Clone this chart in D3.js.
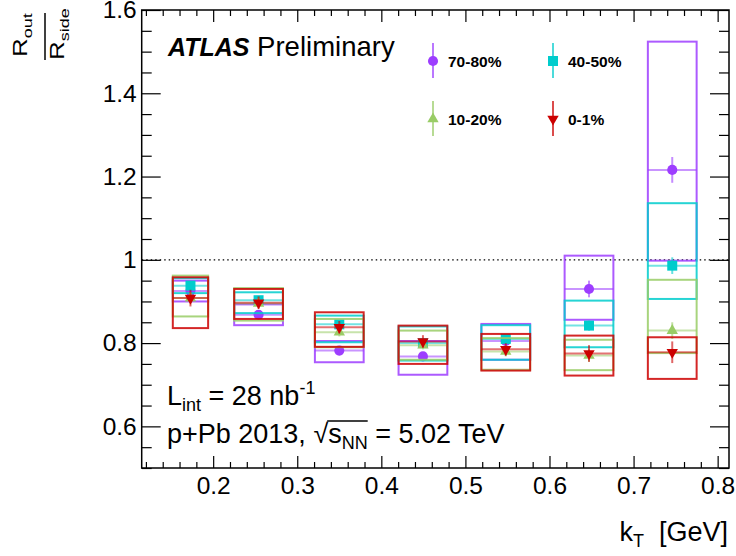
<!DOCTYPE html>
<html><head><meta charset="utf-8">
<script src="https://cdn.jsdelivr.net/npm/d3@7"></script>
<style>
body{margin:0;background:#fff;}
svg{display:block;font-family:"Liberation Sans",Arial,Helvetica,sans-serif;}
</style></head><body>
<svg id="chart" width="736" height="556"></svg>
<script>
// kT bin centres and half widths of the systematic boxes [GeV]
const kT = [0.173, 0.254, 0.350, 0.4495, 0.548, 0.647, 0.746];
const kTHalfWidth = [0.021, 0.029, 0.029, 0.029, 0.029, 0.029, 0.029];

const centralities = ["70-80%", "40-50%", "10-20%", "0-1%"];

// Rout/Rside per centrality class: value, statistical error, systematic band
const ratio70_80   = [0.925, 0.868, 0.782, 0.768, 0.805, 0.930, 1.216];
const stat70_80    = [0.012, 0.010, 0.010, 0.010, 0.012, 0.020, 0.031];
const sysLo70_80   = [0.900, 0.843, 0.754, 0.724, 0.760, 0.856, 0.998];
const sysHi70_80   = [0.950, 0.893, 0.805, 0.805, 0.846, 1.010, 1.524];

const ratio40_50   = [0.938, 0.903, 0.845, 0.800, 0.810, 0.842, 0.986];
const stat40_50    = [0.008, 0.008, 0.008, 0.008, 0.010, 0.012, 0.020];
const sysLo40_50   = [0.920, 0.872, 0.802, 0.758, 0.760, 0.790, 0.906];
const sysHi40_50   = [0.956, 0.922, 0.866, 0.840, 0.843, 0.902, 1.136];

const ratio10_20   = [0.908, 0.895, 0.826, 0.795, 0.780, 0.770, 0.830];
const stat10_20    = [0.012, 0.010, 0.010, 0.010, 0.012, 0.015, 0.020];
const sysLo10_20   = [0.864, 0.854, 0.790, 0.760, 0.736, 0.735, 0.776];
const sysHi10_20   = [0.962, 0.932, 0.858, 0.830, 0.812, 0.808, 0.952];

const ratio0_1     = [0.908, 0.897, 0.838, 0.804, 0.785, 0.775, 0.778];
const stat0_1      = [0.020, 0.015, 0.015, 0.015, 0.015, 0.020, 0.026];
const sysLo0_1     = [0.836, 0.858, 0.791, 0.750, 0.734, 0.722, 0.714];
const sysHi0_1     = [0.958, 0.930, 0.874, 0.842, 0.822, 0.818, 0.814];

// axis ticks
const xMajorTicks = [0.2, 0.3, 0.4, 0.5, 0.6, 0.7, 0.8];
const xTickLabels = ["0.2", "0.3", "0.4", "0.5", "0.6", "0.7", "0.8"];
const yMajorTicks = [0.6, 0.8, 1.0, 1.2, 1.4, 1.6];
const yTickLabels = ["0.6", "0.8", "1", "1.2", "1.4", "1.6"];

const styles = [
  {color: "#9d3dff", symbol: d3.symbolCircle, size: 80, rot: 0},
  {color: "#00cccc", symbol: d3.symbolSquare, size: 100, rot: 0},
  {color: "#99cc66", symbol: d3.symbolTriangle, size: 56, rot: 0},
  {color: "#cc0000", symbol: d3.symbolTriangle, size: 56, rot: 180}
];
const seriesData = [
  [ratio70_80, stat70_80, sysLo70_80, sysHi70_80],
  [ratio40_50, stat40_50, sysLo40_50, sysHi40_50],
  [ratio10_20, stat10_20, sysLo10_20, sysHi10_20],
  [ratio0_1, stat0_1, sysLo0_1, sysHi0_1]
];
const series = seriesData.map((s, i) => ({
  label: centralities[i], ...styles[i],
  points: kT.map((k, j) => ({k, hw: kTHalfWidth[j], v: s[0][j], e: s[1][j], lo: s[2][j], hi: s[3][j]}))
}));

const L = 141.7, R = 729, T = 10, B = 468;
const x = d3.scaleLinear().domain([0.115, 0.8135]).range([L, R]);
const y = d3.scaleLinear().domain([0.5, 1.6]).range([B, T]);

const svg = d3.select("#chart");

// reference line at unity
svg.append("line")
  .attr("x1", L).attr("x2", R).attr("y1", y(1)).attr("y2", y(1))
  .attr("stroke", "#000").attr("stroke-width", 1.2).attr("stroke-dasharray", "1.5,3");

// data: systematic boxes, error bars, markers
series.forEach(s => {
  const g = svg.append("g");
  g.selectAll("rect").data(s.points).join("rect")
    .attr("x", d => x(d.k - d.hw)).attr("width", d => x(d.k + d.hw) - x(d.k - d.hw))
    .attr("y", d => y(d.hi)).attr("height", d => y(d.lo) - y(d.hi))
    .attr("fill", "none").attr("stroke", s.color).attr("stroke-width", 2).attr("stroke-opacity", 0.85);
  g.selectAll("line.h").data(s.points).join("line").attr("class", "h")
    .attr("x1", d => x(d.k - d.hw)).attr("x2", d => x(d.k + d.hw))
    .attr("y1", d => y(d.v)).attr("y2", d => y(d.v))
    .attr("stroke", s.color).attr("stroke-width", 2).attr("stroke-opacity", 0.55);
  g.selectAll("line.v").data(s.points).join("line").attr("class", "v")
    .attr("x1", d => x(d.k)).attr("x2", d => x(d.k))
    .attr("y1", d => y(d.v + d.e)).attr("y2", d => y(d.v - d.e))
    .attr("stroke", s.color).attr("stroke-width", 2).attr("stroke-opacity", 0.6);
  g.selectAll("path").data(s.points).join("path")
    .attr("d", d3.symbol(s.symbol, s.size))
    .attr("transform", d => `translate(${x(d.k)},${y(d.v)}) rotate(${s.rot})`)
    .attr("fill", s.color);
});

// axes with inward ticks on all four sides
const fontSize = 24.5;
function styleAxis(g) {
  g.select(".domain").remove();
  g.selectAll("line").attr("stroke", "#000").attr("stroke-width", 1.2);
  g.selectAll("text").attr("font-size", fontSize).attr("fill", "#000")
    .attr("font-family", "Liberation Sans, Arial, sans-serif");
}
const xMinor = d3.range(0.12, 0.8135, 0.02).filter(v => !xMajorTicks.some(t => Math.abs(t - v) < 1e-6));
const yMinor = d3.range(0.5, 1.6001, 0.05).filter(v => !yMajorTicks.some(t => Math.abs(t - v) < 1e-6));

svg.append("g").attr("transform", `translate(0,${B})`)
  .call(d3.axisBottom(x).tickValues(xMajorTicks).tickSize(-12).tickPadding(9)
    .tickFormat((d, i) => xTickLabels[i])).call(styleAxis);
svg.append("g").attr("transform", `translate(0,${B})`)
  .call(d3.axisBottom(x).tickValues(xMinor).tickSize(-6).tickFormat("")).call(styleAxis);
svg.append("g").attr("transform", `translate(0,${T})`)
  .call(d3.axisTop(x).tickValues(xMajorTicks).tickSize(-12).tickFormat("")).call(styleAxis);
svg.append("g").attr("transform", `translate(0,${T})`)
  .call(d3.axisTop(x).tickValues(xMinor).tickSize(-6).tickFormat("")).call(styleAxis);

svg.append("g").attr("transform", `translate(${L},0)`)
  .call(d3.axisLeft(y).tickValues(yMajorTicks).tickSize(-19).tickPadding(5)
    .tickFormat((d, i) => yTickLabels[i])).call(styleAxis);
svg.append("g").attr("transform", `translate(${L},0)`)
  .call(d3.axisLeft(y).tickValues(yMinor).tickSize(-10).tickFormat("")).call(styleAxis);
svg.append("g").attr("transform", `translate(${R},0)`)
  .call(d3.axisRight(y).tickValues(yMajorTicks).tickSize(-19).tickFormat("")).call(styleAxis);
svg.append("g").attr("transform", `translate(${R},0)`)
  .call(d3.axisRight(y).tickValues(yMinor).tickSize(-10).tickFormat("")).call(styleAxis);

// frame
svg.append("rect").attr("x", L).attr("y", T).attr("width", R - L).attr("height", B - T)
  .attr("fill", "none").attr("stroke", "#000").attr("stroke-width", 1.5);

// x axis title
const xt = svg.append("text").attr("x", 728).attr("y", 541).attr("text-anchor", "end")
  .attr("font-size", 27).style("white-space", "pre");
xt.append("tspan").text("k");
xt.append("tspan").attr("font-size", 18).attr("dy", 6).text("T");
xt.append("tspan").attr("dy", -6).text("  [GeV]");

// y axis title: Rout / Rside fraction, rotated (slightly condensed across the baseline)
const ys = 0.75;
const yt = svg.append("g").attr("transform", `rotate(-90) scale(1,${ys})`);
const num = yt.append("text").attr("x", -57).attr("y", 27 / ys).attr("font-size", 26);
num.append("tspan").text("R");
num.append("tspan").attr("font-size", 18).attr("dy", 7).text("out");
const den = yt.append("text").attr("x", -60).attr("y", 64 / ys).attr("font-size", 26);
den.append("tspan").text("R");
den.append("tspan").attr("font-size", 18).attr("dy", 7).text("side");
yt.append("line").attr("x1", -60).attr("x2", -13).attr("y1", 45 / ys).attr("y2", 45 / ys)
  .attr("stroke", "#000").attr("stroke-width", 2);

// experiment label
const atlas = svg.append("text").attr("x", 168).attr("y", 56).attr("font-size", 25);
atlas.append("tspan").attr("font-weight", "bold").attr("font-style", "italic").text("ATLAS");
atlas.append("tspan").attr("font-size", 27.5).text(" Preliminary");

// luminosity and system
const lum = svg.append("text").attr("x", 167).attr("y", 405).attr("font-size", 27);
lum.append("tspan").text("L");
lum.append("tspan").attr("font-size", 18).attr("dy", 6).text("int");
lum.append("tspan").attr("dy", -6).text(" = 28 nb");
lum.append("tspan").attr("font-size", 18).attr("dy", -11).text("-1");

const sys = svg.append("text").attr("x", 167).attr("y", 443).attr("font-size", 27);
sys.append("tspan").text("p+Pb 2013, √s");
sys.append("tspan").attr("font-size", 18).attr("dy", 6).text("NN");
sys.append("tspan").attr("dy", -6).text(" = 5.02 TeV");
// overline of the square root
{
  const node = sys.node();
  const full = node.textContent;
  const iRoot = full.indexOf("√");
  const iEnd = full.indexOf("NN") + 1;
  const r = node.getExtentOfChar(iRoot);
  const e = node.getExtentOfChar(iEnd);
  svg.append("line").attr("x1", r.x + r.width - 1).attr("x2", e.x + e.width)
    .attr("y1", r.y + 2).attr("y2", r.y + 2).attr("stroke", "#000").attr("stroke-width", 1.3);
}

// legend
const legendX = [433, 553], legendY = [61, 119];
series.forEach((s, i) => {
  const lx = legendX[i % 2], ly = legendY[Math.floor(i / 2)];
  const g = svg.append("g");
  g.append("line").attr("x1", lx).attr("x2", lx).attr("y1", ly - 18).attr("y2", ly + 17)
    .attr("stroke", s.color).attr("stroke-width", 2).attr("stroke-opacity", 0.7);
  g.append("path").attr("d", d3.symbol(s.symbol, s.size))
    .attr("transform", `translate(${lx},${ly}) rotate(${s.rot})`).attr("fill", s.color);
  g.append("text").attr("x", lx + 15).attr("y", ly + 5.5).attr("font-size", 15.5)
    .attr("font-weight", "bold").text(s.label);
});
</script>
</body></html>
